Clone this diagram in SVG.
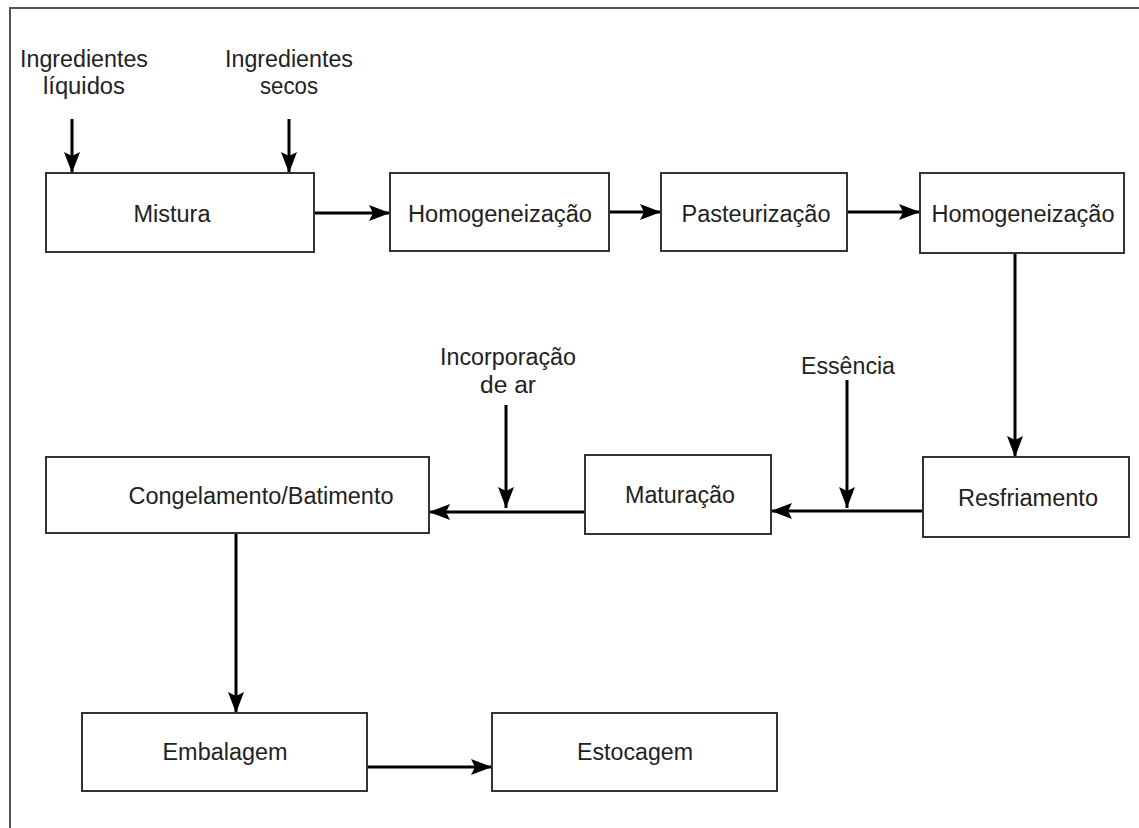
<svg xmlns="http://www.w3.org/2000/svg" width="1139" height="828" viewBox="0 0 1139 828">
<style>
.box{fill:#fff;stroke:#333;stroke-width:2}
.t{font-family:"Liberation Sans",Arial,sans-serif;font-size:23px;fill:#222;text-anchor:middle}
.c{stroke:#000;stroke-width:3;fill:none;marker-end:url(#ah)}
.frame{fill:none;stroke:#555;stroke-width:2}
</style>
<defs>
<marker id="ah" markerUnits="userSpaceOnUse" markerWidth="22" markerHeight="16" refX="21" refY="8" orient="auto">
<path d="M0,0 L21,8 L0,16 L4,8 Z" fill="#000"/>
</marker>
</defs>
<rect width="1139" height="828" fill="#fff"/>
<polyline class="frame" points="10,830 10,8 1140,8"/>
<g id="connectors">
<line class="c" x1="72" y1="119" x2="72" y2="173"/>
<line class="c" x1="289" y1="119" x2="289" y2="173"/>
<line class="c" x1="314" y1="213" x2="390" y2="213"/>
<line class="c" x1="609" y1="212" x2="661" y2="212"/>
<line class="c" x1="847" y1="212" x2="920" y2="212"/>
<line class="c" x1="1015" y1="253" x2="1015" y2="457"/>
<line class="c" x1="923" y1="511" x2="771" y2="511"/>
<line class="c" x1="847" y1="380" x2="847" y2="508"/>
<line class="c" x1="585" y1="512" x2="429" y2="512"/>
<line class="c" x1="506" y1="405" x2="506" y2="508"/>
<line class="c" x1="236" y1="533" x2="236" y2="713"/>
<line class="c" x1="367" y1="767" x2="492" y2="767"/>
</g>
<g id="lbl-liquidos"><text class="t" x="84" y="67" textLength="128" lengthAdjust="spacingAndGlyphs">Ingredientes</text><text class="t" x="84" y="94" textLength="82" lengthAdjust="spacingAndGlyphs">líquidos</text></g>
<g id="lbl-secos"><text class="t" x="289" y="67" textLength="128" lengthAdjust="spacingAndGlyphs">Ingredientes</text><text class="t" x="289" y="94" textLength="58" lengthAdjust="spacingAndGlyphs">secos</text></g>
<g id="lbl-ar"><text class="t" x="508" y="365" textLength="136" lengthAdjust="spacingAndGlyphs">Incorporação</text><text class="t" x="508" y="393" textLength="56" lengthAdjust="spacingAndGlyphs">de ar</text></g>
<g id="lbl-essencia"><text class="t" x="848" y="374" textLength="94" lengthAdjust="spacingAndGlyphs">Essência</text></g>
<g id="mistura"><rect class="box" x="46" y="173" width="268" height="79"/><text class="t" x="172" y="222" textLength="77" lengthAdjust="spacingAndGlyphs">Mistura</text></g>
<g id="homog1"><rect class="box" x="390" y="173" width="219" height="78"/><text class="t" x="500" y="222" textLength="184" lengthAdjust="spacingAndGlyphs">Homogeneização</text></g>
<g id="pasteur"><rect class="box" x="661" y="173" width="186" height="78"/><text class="t" x="756" y="222" textLength="149" lengthAdjust="spacingAndGlyphs">Pasteurização</text></g>
<g id="homog2"><rect class="box" x="920" y="173" width="204" height="80"/><text class="t" x="1023" y="222" textLength="183" lengthAdjust="spacingAndGlyphs">Homogeneização</text></g>
<g id="resfriamento"><rect class="box" x="923" y="457" width="206" height="80"/><text class="t" x="1028" y="506" textLength="140" lengthAdjust="spacingAndGlyphs">Resfriamento</text></g>
<g id="maturacao"><rect class="box" x="585" y="455" width="186" height="79"/><text class="t" x="680" y="503" textLength="110" lengthAdjust="spacingAndGlyphs">Maturação</text></g>
<g id="congelamento"><rect class="box" x="46" y="457" width="383" height="76"/><text class="t" x="261" y="504" textLength="265" lengthAdjust="spacingAndGlyphs">Congelamento/Batimento</text></g>
<g id="embalagem"><rect class="box" x="82" y="713" width="285" height="78"/><text class="t" x="225" y="760" textLength="125" lengthAdjust="spacingAndGlyphs">Embalagem</text></g>
<g id="estocagem"><rect class="box" x="492" y="713" width="285" height="78"/><text class="t" x="635" y="760" textLength="116" lengthAdjust="spacingAndGlyphs">Estocagem</text></g>
</svg>
